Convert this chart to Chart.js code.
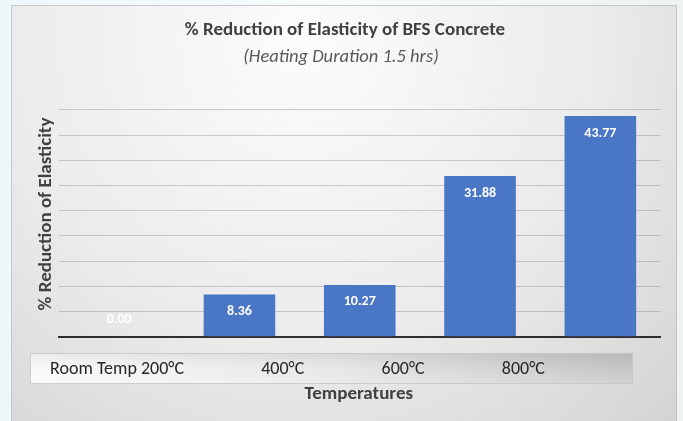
<!DOCTYPE html>
<html>
<head>
<meta charset="utf-8">
<script src="https://cdn.jsdelivr.net/npm/chart.js@4.4.1/dist/chart.umd.min.js"></script>
<style>
  html, body { margin: 0; padding: 0; }
  body { width: 683px; height: 421px; overflow: hidden;
         background: linear-gradient(90deg, #eef8fb 0%, #f7fbfc 50%, #eef2f3 100%); }
  #wrap { position: absolute; left: 0; top: 0; width: 683px; height: 421px; }
</style>
</head>
<body>
<div id="wrap"><canvas id="c" width="683" height="421"></canvas></div>
<script>
// Categories and measured values
const categories = ['Room Temp', '200°C', '400°C', '600°C', '800°C'];
const reductionPct = [0.00, 8.36, 10.27, 31.88, 43.77];
const yMin = 0;
const yMax = 45;
const yStep = 5;

const titleText = '% Reduction of Elasticity of BFS Concrete';
const subtitleText = '(Heating Duration 1.5 hrs)';
const yTitleText = '% Reduction of Elasticity';
const xTitleText = 'Temperatures';

const FONT = 'Carlito, Lato, "Open Sans", sans-serif';

// Panel background, titles and the label band under the axis
const decorPlugin = {
  id: 'decor',
  beforeDraw(chart) {
    const ctx = chart.ctx;
    const x0 = 11, y0 = 5, x1 = 677, y1 = 421;
    ctx.save();
    const g = ctx.createRadialGradient(300, 40, 20, 300, 40, 640);
    g.addColorStop(0, '#fbfbfb');
    g.addColorStop(0.45, '#ebebeb');
    g.addColorStop(1, '#c9c9c9');
    ctx.fillStyle = g;
    ctx.fillRect(x0, y0, x1 - x0, y1 - y0);
    ctx.strokeStyle = 'rgba(190,190,190,0.8)';
    ctx.lineWidth = 1;
    ctx.strokeRect(x0 + 0.5, y0 + 0.5, x1 - x0 - 1, y1 - y0);
    ctx.restore();
  },
  afterDraw(chart) {
    const ctx = chart.ctx;
    const area = chart.chartArea;
    const xs = chart.scales.x;
    ctx.save();
    ctx.textAlign = 'center';
    ctx.textBaseline = 'middle';

    // chart title + subtitle
    ctx.fillStyle = '#404040';
    ctx.font = 'bold 19px ' + FONT;
    ctx.fillText(titleText, 345, 30);
    ctx.fillStyle = '#595959';
    ctx.font = 'italic 18.5px ' + FONT;
    ctx.fillText(subtitleText, 341, 57);

    // y axis title
    ctx.save();
    ctx.translate(46, 214);
    ctx.rotate(-Math.PI / 2);
    ctx.fillStyle = '#404040';
    ctx.font = 'bold 19px ' + FONT;
    ctx.fillText(yTitleText, 0, 0);
    ctx.restore();

    // label band
    const bx0 = 30, bx1 = 633, by0 = 353, by1 = 384;
    const bg = ctx.createLinearGradient(bx0, 0, bx1, 0);
    bg.addColorStop(0, '#f9f9f9');
    bg.addColorStop(0.5, '#e6e6e6');
    bg.addColorStop(1, '#c2c2c2');
    ctx.fillStyle = bg;
    ctx.fillRect(bx0, by0, bx1 - bx0, by1 - by0);
    const vg = ctx.createLinearGradient(0, by0, 0, by1);
    vg.addColorStop(0, 'rgba(0,0,0,0.06)');
    vg.addColorStop(0.5, 'rgba(255,255,255,0.05)');
    vg.addColorStop(1, 'rgba(255,255,255,0.25)');
    ctx.fillStyle = vg;
    ctx.fillRect(bx0, by0, bx1 - bx0, by1 - by0);
    ctx.strokeStyle = 'rgba(200,200,200,0.9)';
    ctx.strokeRect(bx0 + 0.5, by0 + 0.5, bx1 - bx0 - 1, by1 - by0 - 1);

    // category labels sit a little right of each column
    ctx.fillStyle = '#262626';
    ctx.font = '18px ' + FONT;
    const cw = xs.getPixelForValue(1) - xs.getPixelForValue(0);
    const ly = (by0 + by1) / 2 + 1;
    for (let k = 1; k < categories.length; k++) {
      const cx = xs.getPixelForValue(k - 1) + 0.36 * cw;
      ctx.fillText(categories[k], cx, ly);
      if (k === 1) {
        const w = ctx.measureText(categories[k]).width;
        ctx.textAlign = 'right';
        ctx.fillText(categories[0] + ' ', cx - w / 2, ly);
        ctx.textAlign = 'center';
      }
    }

    // x axis title
    ctx.fillStyle = '#404040';
    ctx.font = 'bold 19px ' + FONT;
    ctx.fillText(xTitleText, (area.left + area.right) / 2 - 1, 394);
    ctx.restore();
  }
};

// Value labels inside the top of each column
const valueLabels = {
  id: 'valueLabels',
  afterDatasetsDraw(chart) {
    const ctx = chart.ctx;
    const meta = chart.getDatasetMeta(0);
    const ys = chart.scales.y;
    ctx.save();
    ctx.font = 'bold 14px ' + FONT;
    ctx.textAlign = 'center';
    ctx.textBaseline = 'middle';
    meta.data.forEach((bar, i) => {
      const v = reductionPct[i];
      const base = ys.getPixelForValue(0);
      const y = v > 0 ? bar.y + 17 : base - 17;
      ctx.fillStyle = '#ffffff';
      ctx.fillText(v.toFixed(2), bar.x, y);
    });
    ctx.restore();
  }
};

new Chart(document.getElementById('c'), {
  type: 'bar',
  data: {
    labels: categories,
    datasets: [{
      data: reductionPct,
      backgroundColor: '#4a76c6',
      borderWidth: 0,
      barPercentage: 0.595,
      categoryPercentage: 1.0
    }]
  },
  options: {
    responsive: false,
    animation: false,
    devicePixelRatio: 1,
    layout: { padding: { left: 59, right: 22.5, top: 109.9, bottom: 84.3 } },
    plugins: {
      legend: { display: false },
      title: { display: false },
      tooltip: { enabled: false }
    },
    scales: {
      x: {
        ticks: { display: false },
        grid: { display: false, drawTicks: false },
        border: { display: true, color: '#2f2f2f', width: 2 },
        afterFit(s) { s.height = 0; }
      },
      y: {
        min: yMin,
        max: yMax,
        ticks: { display: false, stepSize: yStep },
        grid: { color: 'rgba(120,120,120,0.35)', lineWidth: 1, drawTicks: false },
        border: { display: false },
        afterFit(s) { s.width = 0; }
      }
    }
  },
  plugins: [decorPlugin, valueLabels]
});
</script>
</body>
</html>
